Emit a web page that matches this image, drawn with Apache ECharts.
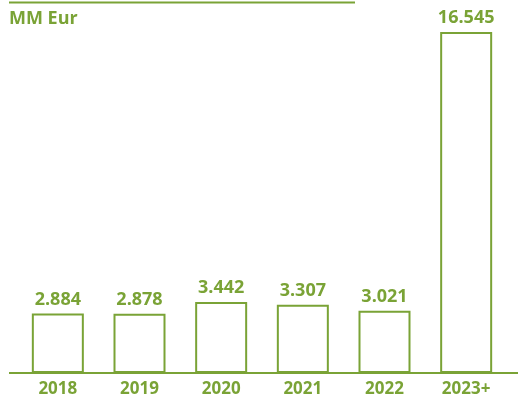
<!DOCTYPE html>
<html>
<head>
<meta charset="utf-8">
<script src="https://cdn.jsdelivr.net/npm/echarts@6/dist/echarts.min.js"></script>
<style>
  html, body { margin: 0; padding: 0; background: #fff; }
  #main { width: 518px; height: 402px; }
</style>
</head>
<body>
<div id="main"></div>
<script>
// inversión por año, MM Eur
var years = ['2018', '2019', '2020', '2021', '2022', '2023+'];
var values = [2884, 2878, 3442, 3307, 3021, 16545];

var green = '#7aa336';

function fmt(v) {
    // separador de miles con punto
    return String(v).replace(/\B(?=(\d{3})+(?!\d))/g, '.');
}

var myChart = echarts.init(document.getElementById('main'));

var option = {
    animation: false,
    grid: { left: 17, right: 11, top: 32, bottom: 29 },
    xAxis: {
        type: 'category',
        data: years,
        axisLine: { show: true, lineStyle: { color: green, width: 2 } },
        axisTick: { show: false },
        axisLabel: {
            color: green,
            fontFamily: 'Open Sans',
            fontWeight: 'bold',
            fontSize: 17,
            margin: 8
        }
    },
    yAxis: {
        type: 'value',
        min: 0,
        max: 16545,
        show: false,
        splitLine: { show: false }
    },
    series: [{
        type: 'bar',
        data: values,
        barWidth: 52,
        itemStyle: { color: '#fff', borderColor: green, borderWidth: 2 },
        label: {
            show: true,
            position: 'top',
            distance: 5,
            color: green,
            fontFamily: 'Open Sans',
            fontWeight: 'bold',
            fontSize: 18,
            formatter: function (p) { return fmt(p.value); }
        }
    }],
    graphic: [
        {
            type: 'line',
            shape: { x1: 9, y1: 2.5, x2: 355, y2: 2.5 },
            style: { stroke: green, lineWidth: 2 }
        },
        {
            type: 'line',
            shape: { x1: 9, y1: 373, x2: 518, y2: 373 },
            style: { stroke: green, lineWidth: 2 }
        },
        {
            type: 'text',
            left: 9,
            top: 10,
            style: {
                text: 'MM Eur',
                fill: green,
                font: 'bold 18px "Open Sans"'
            }
        }
    ]
};

myChart.setOption(option);
</script>
</body>
</html>
